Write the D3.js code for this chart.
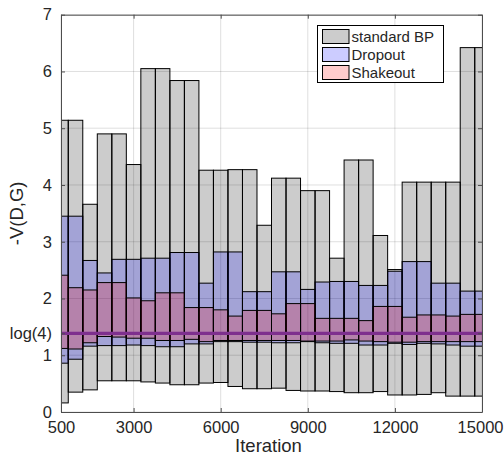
<!DOCTYPE html>
<html>
<head>
<meta charset="utf-8">
<script src="https://cdn.jsdelivr.net/npm/d3@7"></script>
<style>
  body { margin: 0; background: #fff; }
  svg { display: block; }
  text { font-family: "Liberation Sans", Arial, Helvetica, sans-serif; fill: #262626; }
</style>
</head>
<body>
<svg id="chart" width="504" height="455"></svg>
<script>
// Training iterations at which the objective was sampled
const iterations = [500, 1000, 1500, 2000, 2500, 3000, 3500, 4000, 4500, 5000,
                    5500, 6000, 6500, 7000, 7500, 8000, 8500, 9000, 9500, 10000,
                    10500, 11000, 11500, 12000, 12500, 13000, 13500, 14000, 14500, 15000];

// Range (min / max) of -V(D,G) per iteration window, for each training method
const bpLow   = [0.16, 0.35, 0.39, 0.55, 0.55, 0.55, 0.53, 0.51, 0.48, 0.48,
                 0.51, 0.52, 0.45, 0.41, 0.41, 0.42, 0.38, 0.37, 0.37, 0.36,
                 0.34, 0.34, 0.36, 0.30, 0.30, 0.31, 0.34, 0.28, 0.28, 0.28];
const bpHigh  = [5.14, 5.14, 3.66, 4.90, 4.90, 4.36, 6.05, 6.05, 5.84, 5.84,
                 4.26, 4.26, 4.27, 4.27, 3.29, 4.12, 4.12, 3.90, 3.90, 2.71,
                 4.44, 4.44, 3.11, 2.51, 4.05, 4.05, 4.05, 4.05, 6.42, 6.42];

const dropLow  = [0.86, 0.93, 1.16, 1.17, 1.17, 1.18, 1.17, 1.15, 1.15, 1.20,
                  1.20, 1.24, 1.24, 1.23, 1.23, 1.22, 1.22, 1.24, 1.22, 1.21,
                  1.21, 1.18, 1.18, 1.21, 1.19, 1.21, 1.20, 1.18, 1.16, 1.16];
const dropHigh = [3.45, 3.45, 2.67, 2.45, 2.69, 2.69, 2.71, 2.71, 2.81, 2.81,
                  2.27, 2.82, 2.82, 2.12, 2.12, 2.47, 2.47, 2.16, 2.29, 2.30,
                  2.30, 2.23, 2.23, 2.48, 2.65, 2.65, 2.27, 2.27, 2.13, 2.13];

const shakeLow  = [1.12, 1.11, 1.22, 1.33, 1.32, 1.30, 1.30, 1.26, 1.26, 1.28,
                   1.24, 1.26, 1.26, 1.26, 1.26, 1.26, 1.26, 1.25, 1.25, 1.25,
                   1.27, 1.25, 1.24, 1.23, 1.23, 1.24, 1.24, 1.24, 1.24, 1.24];
const shakeHigh = [2.41, 2.19, 2.15, 2.28, 2.28, 2.01, 1.96, 2.10, 2.10, 1.84,
                   1.84, 1.80, 1.69, 1.79, 1.79, 1.73, 1.91, 1.91, 1.65, 1.65,
                   1.65, 1.61, 1.86, 1.86, 1.67, 1.71, 1.71, 1.69, 1.72, 1.72];

const seriesNames = ["standard BP", "Dropout", "Shakeout"];
const xTickValues = [500, 3000, 6000, 9000, 12000, 15000];
const yTickValues = [0, 1, 2, 3, 4, 5, 6, 7];
const refLevel = Math.log(4);
const refLabel = "log(4)";
const xLabel = "Iteration";
const yLabel = "-V(D,G)";

const W = 504;
const svg = d3.select("#chart");
const plot = { left: 61, right: 482, top: 14.7, bottom: 412 };

const x = d3.scaleLinear().domain([500, 15000]).range([plot.left, plot.right]);
const y = d3.scaleLinear().domain([0, 7]).range([plot.bottom, plot.top]);

svg.append("defs").append("clipPath").attr("id", "plotClip")
  .append("rect")
  .attr("x", plot.left).attr("y", plot.top)
  .attr("width", plot.right - plot.left).attr("height", plot.bottom - plot.top);

// Grid
const yGridValues = yTickValues.concat([refLevel]);
const grid = svg.append("g").attr("stroke", "#262626").attr("stroke-opacity", 0.15).attr("stroke-width", 1);
grid.selectAll("line.gx").data(xTickValues).join("line")
  .attr("x1", d => x(d)).attr("x2", d => x(d))
  .attr("y1", plot.top).attr("y2", plot.bottom);
grid.selectAll("line.gy").data(yGridValues).join("line")
  .attr("x1", plot.left).attr("x2", plot.right)
  .attr("y1", d => y(d)).attr("y2", d => y(d));

// Floating range bars, one per iteration window
const step = iterations[1] - iterations[0];
const series = [
  { name: seriesNames[0], lo: bpLow,    hi: bpHigh,    color: "#000000" },
  { name: seriesNames[1], lo: dropLow,  hi: dropHigh,  color: "#0000ff" },
  { name: seriesNames[2], lo: shakeLow, hi: shakeHigh, color: "#ff0000" }
];

const bars = svg.append("g").attr("clip-path", "url(#plotClip)");
series.forEach(s => {
  bars.append("g")
    .selectAll("rect")
    .data(iterations.map((it, i) => ({ it, lo: s.lo[i], hi: s.hi[i] })))
    .join("rect")
    .attr("x", d => x(d.it - step / 2))
    .attr("width", d => x(d.it + step / 2) - x(d.it - step / 2))
    .attr("y", d => y(d.hi))
    .attr("height", d => y(d.lo) - y(d.hi))
    .attr("fill", s.color)
    .attr("fill-opacity", 0.2)
    .attr("stroke", "#000")
    .attr("stroke-width", 1);
});

// Reference level log(4)
svg.append("line")
  .attr("x1", x(500)).attr("x2", x(15000))
  .attr("y1", y(refLevel)).attr("y2", y(refLevel))
  .attr("stroke", "#7e2f8e").attr("stroke-width", 3.3);

// Axes (ticks pointing inward, box on)
const axisColor = "#4d4d4d";
function styleAxis(g, size) {
  g.select(".domain").attr("stroke", axisColor);
  g.selectAll(".tick line").attr("stroke", axisColor);
  g.selectAll(".tick text").attr("fill", "#262626").style("font-size", size + "px")
    .style("font-family", '"Liberation Sans", Arial, Helvetica, sans-serif');
}
const yTicksAll = [0, 1, refLevel, 2, 3, 4, 5, 6, 7];
const fmtY = d => (d === refLevel ? refLabel : d3.format("d")(d));

const xAxisG = svg.append("g").attr("transform", `translate(0,${plot.bottom})`)
  .call(d3.axisBottom(x).tickValues(xTickValues).tickFormat(d3.format("d")).tickSizeInner(-4).tickSizeOuter(0).tickPadding(9))
  .call(g => styleAxis(g, 16.5));
// keep the last tick label inside the page
xAxisG.selectAll(".tick text").each(function () {
  const t = d3.select(this);
  const tr = this.parentNode.getAttribute("transform");
  const tx = +/translate\(([-\d.]+)/.exec(tr)[1];
  const bb = this.getBBox();
  const right = tx + bb.x + bb.width;
  if (right > W - 0.5) t.attr("dx", (W - 0.5 - right) + "px");
});
svg.append("g").attr("transform", `translate(0,${plot.top})`)
  .call(d3.axisTop(x).tickValues(xTickValues).tickFormat("").tickSizeInner(-4).tickSizeOuter(0))
  .call(g => styleAxis(g, 16.5));
svg.append("g").attr("transform", `translate(${plot.left},0)`)
  .call(d3.axisLeft(y).tickValues(yTicksAll).tickFormat(fmtY).tickSizeInner(-4).tickSizeOuter(0).tickPadding(9))
  .call(g => styleAxis(g, 16.5));
svg.append("g").attr("transform", `translate(${plot.right},0)`)
  .call(d3.axisRight(y).tickValues(yTicksAll).tickFormat("").tickSizeInner(-4).tickSizeOuter(0))
  .call(g => styleAxis(g, 16.5));

// Axis labels
svg.append("text")
  .attr("x", (plot.left + plot.right) / 2 - 3).attr("y", 452)
  .attr("text-anchor", "middle").style("font-size", "18.5px")
  .text(xLabel);
svg.append("text")
  .attr("transform", `translate(23,${(plot.top + plot.bottom) / 2}) rotate(-90)`)
  .attr("text-anchor", "middle").style("font-size", "18.5px")
  .text(yLabel);

// Legend
const legend = svg.append("g");
legend.append("rect")
  .attr("x", 317.5).attr("y", 25.5).attr("width", 126).attr("height", 57)
  .attr("fill", "#fff").attr("stroke", "#000").attr("stroke-width", 1);
const rowY = [29.5, 47.5, 65.5];
series.forEach((s, i) => {
  legend.append("rect")
    .attr("x", 322.5).attr("y", rowY[i]).attr("width", 26.5).attr("height", 14)
    .attr("fill", s.color).attr("fill-opacity", 0.2)
    .attr("stroke", "#000").attr("stroke-width", 1);
  legend.append("text")
    .attr("x", 351.5).attr("y", rowY[i] + 12.5)
    .style("font-size", "15px").attr("fill", "#000")
    .text(s.name);
});
</script>
</body>
</html>
